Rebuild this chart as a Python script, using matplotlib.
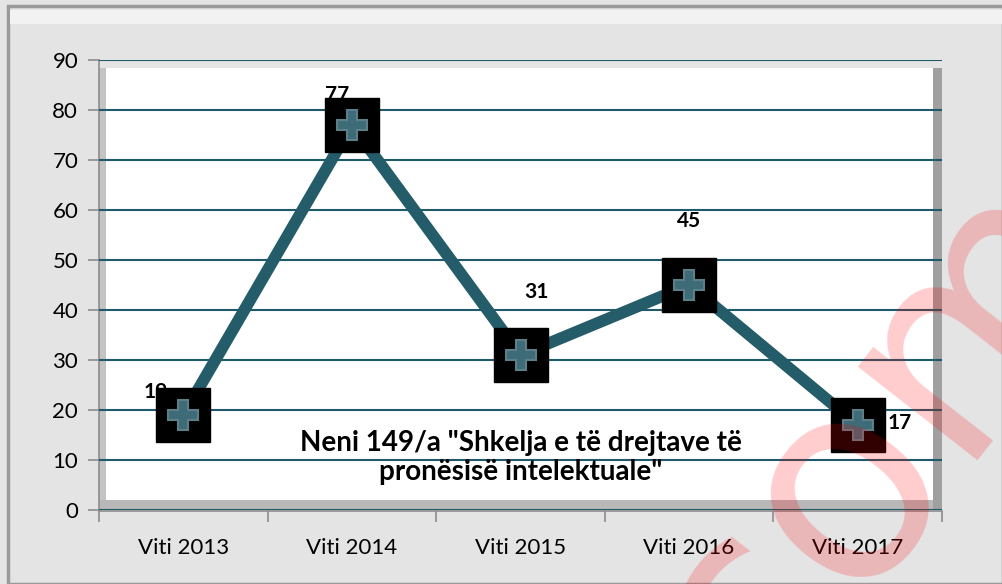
import matplotlib.pyplot as plt
from matplotlib.patches import Rectangle

plt.rcParams['font.family'] = ['Lato', 'DejaVu Sans']

# data
years = ["Viti 2013", "Viti 2014", "Viti 2015", "Viti 2016", "Viti 2017"]
cases = [19, 77, 31, 45, 17]
label_offsets = [(-28, 23), (-15, 30), (16, 63), (0, 64), (42, 2)]  # px
title = 'Neni 149/a "Shkelja e të drejtave të\npronësisë intelektuale"'

line_col = "#245c6a"
grid_col = "#1f5a6a"

fig = plt.figure(figsize=(10.03, 5.84), dpi=100, facecolor="#e4e4e4")
# outer frame
fig.patches.append(Rectangle((8/1003, 0), 1 - 8/1003, 1 - 6/584, transform=fig.transFigure,
                             fill=False, edgecolor="#9a9a9a", linewidth=2.5, zorder=0))
fig.patches.append(Rectangle((10/1003, 1 - 24/584), 1 - 10/1003, 14/584, transform=fig.transFigure,
                             facecolor="#f2f2f2", edgecolor="none", zorder=0))

ax = fig.add_axes([99/1003, 74/584, 843/1003, 450/584])
ax.set_facecolor("#e4e4e4")

# 3d-ish wall
W, H = 843, 450
ax.add_patch(Rectangle((7/W, 10/H), (933-106)/W, (500-68)/H, transform=ax.transAxes,
                       facecolor="white", edgecolor="none", zorder=0))
ax.add_patch(Rectangle((0, 0), 7/W, 1 - 8/H, transform=ax.transAxes,
                       facecolor="#c4c4c4", edgecolor="none", zorder=0))
ax.add_patch(Rectangle((0, 0), 1, 10/H, transform=ax.transAxes,
                       facecolor="#b8b8b8", edgecolor="none", zorder=0))
ax.add_patch(Rectangle((1 - 9/W, 0), 9/W, 1 - 8/H, transform=ax.transAxes,
                       facecolor="#a0a0a0", edgecolor="none", zorder=0))

x = list(range(len(years)))
ax.plot(x, cases, color=line_col, linewidth=8.5, solid_joinstyle="miter", zorder=3)
ax.plot(x, cases, linestyle="none", marker="s", markersize=39, color="black", zorder=4)
ax.plot(x, cases, linestyle="none", marker="P", markersize=22, color="#3d6c78",
        markeredgecolor="#5e7f88", markeredgewidth=1.5, zorder=5)

for xi, v, (dx, dy) in zip(x, cases, label_offsets):
    ax.annotate(str(v), (xi, v), xytext=(dx*0.72, dy*0.72), textcoords="offset points",
                ha="center", va="center", fontsize=15, fontweight="bold", zorder=6)

ax.text(0.5, 0.117, title, transform=ax.transAxes, ha="center", va="center",
        fontsize=20, fontweight="bold", linespacing=1.12, zorder=6)

ax.set_xlim(-0.5, len(years) - 0.5)
ax.set_ylim(0, 90)
ax.set_yticks(range(0, 91, 10))
ax.yaxis.grid(True, color=grid_col, linewidth=1.5)
ax.set_axisbelow(False)
for gl in ax.get_ygridlines():
    gl.set_zorder(1)

ax.set_xticks(x)
ax.set_xticklabels(years)
ax.set_xticks([i - 0.5 for i in range(len(years) + 1)], minor=True)
ax.tick_params(axis="x", which="major", length=0, pad=19, labelsize=16)
ax.tick_params(axis="x", which="minor", length=8, color="#8c8c8c", width=1.2)
ax.tick_params(axis="y", length=8, color="#8c8c8c", width=1.2, labelsize=16, pad=7)

for s in ["top", "right"]:
    ax.spines[s].set_visible(False)
ax.spines["left"].set_color("#8c8c8c")
ax.spines["bottom"].set_color("#8c8c8c")
ax.spines["left"].set_linewidth(1.2)
ax.spines["bottom"].set_linewidth(1.2)
ax.spines["bottom"].set_position(("outward", 1))

# watermark
fig.text(880/1003, 1 - 440/584, "com", fontsize=200, color="red", alpha=0.2,
         rotation=52, ha="center", va="center", family="DejaVu Sans", zorder=10)

fig.savefig("out.png", dpi=100, facecolor=fig.get_facecolor())
